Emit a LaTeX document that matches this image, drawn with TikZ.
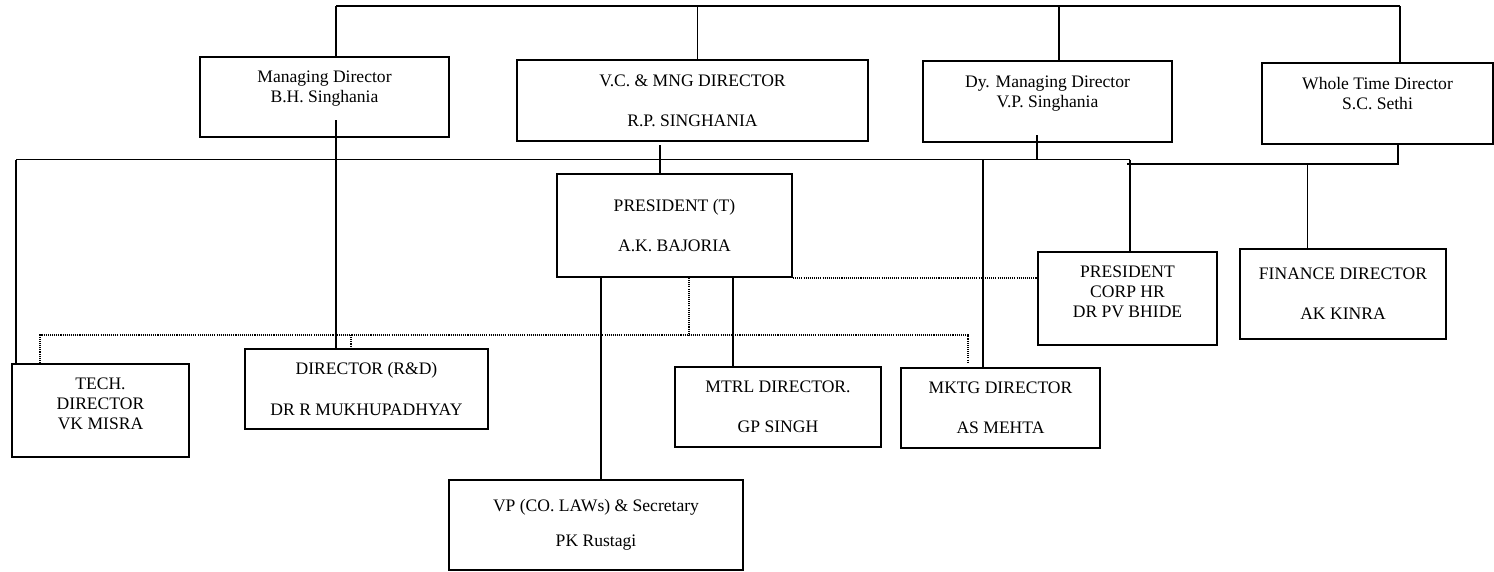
\documentclass[tikz,border=0pt]{standalone}
\usepackage{fontspec}
\setmainfont{Liberation Serif}
\usetikzlibrary{calc}

\tikzset{
  post/.style={draw, line width=1.1pt, align=center, inner sep=0pt,
    font=\fontsize{10}{11.4}\selectfont},
  link/.style={line width=1pt},
  dots/.style={line width=0.8pt, dash pattern=on 0.6pt off 0.6pt},
}

\begin{document}
\begin{tikzpicture}
  \useasboundingbox (0,0) rectangle (29.88,-11.42);
  \def\gap{11.4pt} % one empty line

  % board row
  \node[post, minimum width=4.98cm, minimum height=1.60cm] (md) at (6.49,-1.94)
       {Managing Director\\B.H. Singhania\\~};
  \node[post, minimum width=7.02cm, minimum height=1.62cm] (vc) at (13.85,-2.01)
       {V.C. \& MNG DIRECTOR\\[\gap]R.P. SINGHANIA};
  \node[post, minimum width=4.98cm, minimum height=1.62cm] (dy) at (20.95,-2.03)
       {Dy. Managing Director\\V.P. Singhania\\~};
  \node[post, minimum width=4.62cm, minimum height=1.62cm] (wt) at (27.55,-2.07)
       {Whole Time Director\\S.C. Sethi\\~};

  % second row
  \node[post, minimum width=4.70cm, minimum height=2.06cm] (pt) at (13.49,-4.51)
       {PRESIDENT (T)\\[\gap]A.K. BAJORIA};
  \node[post, minimum width=3.58cm, minimum height=1.86cm] (hr) at (22.55,-5.97)
       {PRESIDENT\\CORP HR\\DR PV BHIDE\\[-4pt]~};
  \node[post, minimum width=4.12cm, minimum height=1.80cm] (fin) at (26.86,-5.88)
       {FINANCE DIRECTOR\\[\gap]AK KINRA};

  % directors row
  \node[post, minimum width=3.54cm, minimum height=1.86cm] (tech) at (2.01,-8.21)
       {TECH.\\DIRECTOR\\VK MISRA\\[-4pt]~};
  \node[post, minimum width=4.86cm, minimum height=1.60cm] (rd) at (7.33,-7.78)
       {DIRECTOR (R\&D)\\[\gap]DR R MUKHUPADHYAY};
  \node[post, minimum width=4.12cm, minimum height=1.60cm] (mt) at (15.56,-8.14)
       {MTRL DIRECTOR.\\[\gap]GP SINGH};
  \node[post, minimum width=3.98cm, minimum height=1.60cm] (mk) at (20.01,-8.16)
       {MKTG DIRECTOR\\[\gap]AS MEHTA};
  \node[post, minimum width=5.88cm, minimum height=1.80cm] (vp) at (11.92,-10.50)
       {VP (CO. LAWs) \& Secretary\\[8.5pt]PK Rustagi};

  % top line
  \coordinate (t1) at (6.72,-0.12);
  \coordinate (t2) at (13.95,-0.12);
  \coordinate (t3) at (21.18,-0.12);
  \coordinate (t4) at (28.00,-0.12);
  \draw[link] (t1) -- (t4);
  \foreach \n/\b in {t1/md, t2/vc, t3/dy, t4/wt}
    \draw[link] (\n) -- (\n |- \b.north);

  % second line
  \coordinate (b0) at (0.32,-3.19);
  \coordinate (b1) at (22.60,-3.19);
  \draw[link] (b0) -- (b1);
  \draw[link] (b0) -- (b0 |- tech.north);
  \draw[link] (b1) -- (b1 |- hr.north);
  \coordinate (m0) at (6.72,-2.40); % starts inside md
  \draw[link] (m0) -- (m0 |- rd.north);
  \coordinate (d0) at (20.74,-2.70);
  \draw[link] (d0) -- (d0 |- b1);
  \coordinate (v0) at (13.20,-2.90);
  \draw[link] (v0) -- (v0 |- pt.north);
  \coordinate (k0) at (19.66,-3.19);
  \draw[link] (k0) -- (k0 |- mk.north);

  % line to whole time director
  \coordinate (w0) at (22.54,-3.28);
  \coordinate (w1) at (27.96,-3.28);
  \draw[link] (w0) -- (w1) -- (w1 |- wt.south);
  \coordinate (f0) at (26.15,-3.28);
  \draw[link] (f0) -- (f0 |- fin.north);

  % below president (T)
  \coordinate (p1) at (12.02,0);
  \coordinate (p2) at (14.66,0);
  \draw[link] (pt.south -| p1) -- (p1 |- vp.north);
  \draw[link] (pt.south -| p2) -- (p2 |- mt.north);

  % dotted links
  \coordinate (p3) at (13.78,-6.70);
  \coordinate (e0) at (0.80,-6.70);
  \coordinate (e1) at (19.36,-6.70);
  \coordinate (e2) at (7.02,-6.70);
  \draw[dots] (pt.south -| p3) -- (p3);
  \draw[dots] (e0 |- tech.north) -- (e0) -- (e1) -- ++(0,-0.56);
  \draw[dots] (e2) -- (e2 |- rd.north);
  \draw[dots] (pt.south east) -- (pt.south east -| hr.west);
\end{tikzpicture}
\end{document}
